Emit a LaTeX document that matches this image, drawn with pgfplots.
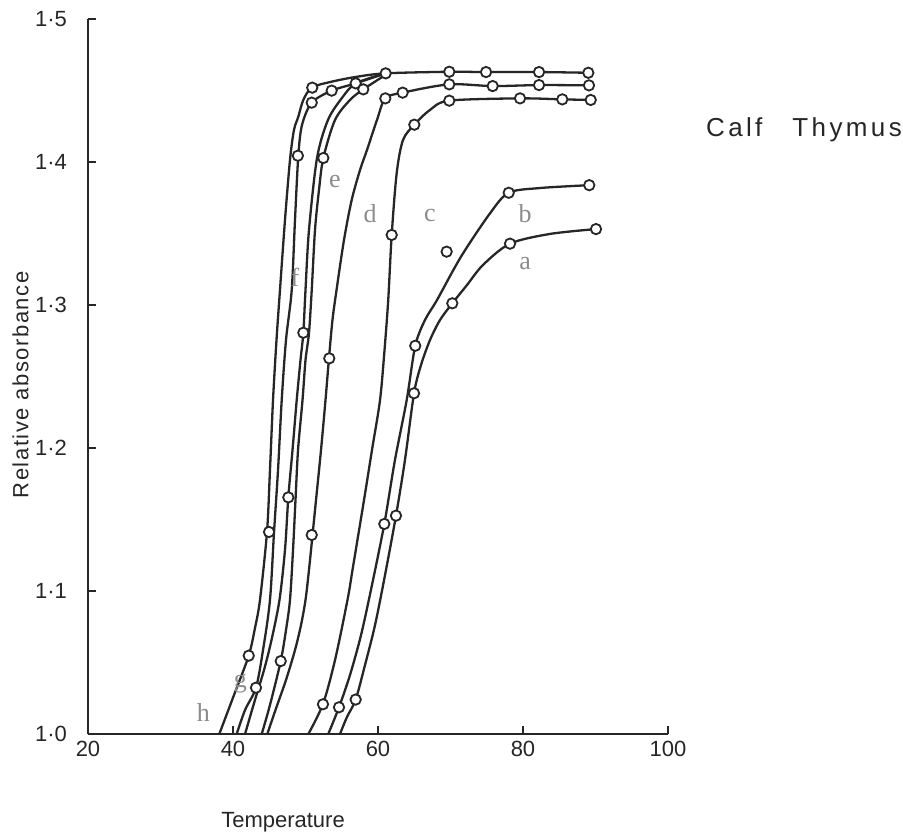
\documentclass[border=0pt]{standalone}
\usepackage{fontspec}
\setmainfont{Liberation Sans}
\newfontfamily\tagfont{Liberation Serif}
\usepackage{pgfplots}
\pgfplotsset{compat=1.18}

\definecolor{ink}{HTML}{262626}
\definecolor{tagc}{HTML}{8C8C8C}

\pgfplotsset{
  melt/.style={ink, line width=1.15pt, smooth, tension=0.5, no markers},
  pts/.style={only marks, mark=*, mark size=2.6pt,
    mark options={draw=ink, fill=white, line width=0.9pt}},
}

\begin{document}
\begin{tikzpicture}
\begin{axis}[
  scale only axis, width=290pt, height=357.5pt,
  xmin=20, xmax=100, ymin=1.0, ymax=1.5,
  axis lines=left,
  axis line style={ink, line width=1.1pt, -},
  xtick={20,40,60,80,100}, xticklabels={20,40,60,80,100},
  ytick={1.0,1.1,1.2,1.3,1.4,1.5},
  yticklabels={1·0,1·1,1·2,1·3,1·4,1·5},
  tick align=inside, major tick length=4pt,
  tick style={ink, line width=0.9pt},
  ticklabel style={font=\fontsize{11}{13}\selectfont, text=ink},
  yticklabel style={xshift=-7pt},
  clip=false,
]
% melting curves h ... a
% h
\addplot[melt] coordinates {(38.11,1.0000) (40.14,1.0273) (42.17,1.0548) (43.03,1.0741) (43.72,1.0937) (44.69,1.1413) (45.10,1.1846) (45.52,1.2336) (46.00,1.2755) (46.48,1.3105) (47.17,1.3594) (47.86,1.4014) (48.41,1.4224) (49.01,1.4317) (49.70,1.4434) (50.86,1.4520) (53.38,1.4559) (56.83,1.4594) (61.06,1.4620) (69.83,1.4631) (74.90,1.4629) (82.21,1.4629) (89.01,1.4624)};
% g
\addplot[melt] coordinates {(40.51,1.0000) (41.66,1.0168) (43.17,1.0324) (44.14,1.0587) (45.10,1.0937) (45.66,1.1413) (46.21,1.1846) (46.72,1.2336) (47.31,1.2755) (48.10,1.3105) (48.55,1.3594) (49.01,1.4044) (49.52,1.4259) (50.86,1.4415) (53.61,1.4499) (56.92,1.4550) (61.06,1.4620)};
% f
\addplot[melt] coordinates {(41.66,1.0000) (43.03,1.0238) (44.28,1.0448) (45.31,1.0657) (46.41,1.0937) (47.17,1.1287) (47.63,1.1655) (48.21,1.1986) (48.79,1.2336) (49.31,1.2615) (49.70,1.2806) (50.00,1.3105) (50.48,1.3524) (51.59,1.4028) (53.10,1.4294) (55.03,1.4448) (56.92,1.4550) (61.06,1.4620)};
% e
\addplot[melt] coordinates {(43.96,1.0000) (45.10,1.0203) (46.58,1.0510) (47.31,1.0727) (47.86,1.0937) (48.28,1.1287) (48.62,1.1636) (48.97,1.1986) (49.59,1.2336) (50.00,1.2615) (50.48,1.2804) (50.86,1.3105) (51.31,1.3524) (51.86,1.3804) (52.46,1.4028) (54.07,1.4294) (56.14,1.4434) (57.97,1.4508) (61.06,1.4610)};
% d
\addplot[melt] coordinates {(44.73,1.0000) (45.86,1.0168) (47.31,1.0378) (48.55,1.0587) (49.38,1.0762) (50.00,1.0937) (50.48,1.1147) (50.97,1.1392) (51.45,1.1636) (52.14,1.1986) (52.76,1.2336) (53.24,1.2629) (53.72,1.2895) (54.28,1.3105) (55.31,1.3455) (56.37,1.3734) (57.52,1.3944) (58.48,1.4084) (59.86,1.4294) (61.01,1.4445) (63.40,1.4485) (69.83,1.4543) (75.82,1.4531) (82.21,1.4538) (89.10,1.4536)};
% c
\addplot[melt] coordinates {(50.39,1.0000) (52.41,1.0210) (54.07,1.0517) (55.79,1.0937) (56.55,1.1168) (58.07,1.1636) (59.17,1.1986) (60.28,1.2336) (60.90,1.2685) (61.41,1.3035) (61.89,1.3490) (62.58,1.3923) (63.45,1.4154) (65.01,1.4261) (67.17,1.4364) (69.83,1.4429) (79.59,1.4445) (85.42,1.4438) (89.34,1.4434)};
% b
\addplot[melt] coordinates {(53.14,1.0000) (54.62,1.0187) (56.14,1.0413) (57.66,1.0692) (59.17,1.1042) (60.87,1.1469) (62.34,1.1916) (63.96,1.2336) (65.14,1.2715) (66.48,1.2895) (68.14,1.3035) (71.45,1.3338) (75.45,1.3641) (78.03,1.3785) (82.34,1.3818) (89.14,1.3838)};
% a
\addplot[melt] coordinates {(54.76,1.0000) (55.72,1.0119) (56.92,1.0241) (58.21,1.0483) (59.59,1.0762) (60.97,1.1112) (62.48,1.1527) (63.72,1.1916) (64.97,1.2383) (65.93,1.2580) (67.17,1.2755) (68.55,1.2895) (70.25,1.3012) (72.28,1.3140) (74.48,1.3280) (78.21,1.3429) (83.72,1.3497) (90.07,1.3531)};
% measured points
\addplot[pts] coordinates {(42.17,1.0548) (44.97,1.1413) (50.93,1.4520) (61.06,1.4620) (69.83,1.4631) (74.90,1.4629) (82.21,1.4629) (89.01,1.4624)};
\addplot[pts] coordinates {(43.17,1.0324) (48.95,1.4044) (50.86,1.4415) (53.61,1.4499) (56.92,1.4550)};
\addplot[pts] coordinates {(47.63,1.1655) (49.70,1.2806)};
\addplot[pts] coordinates {(46.58,1.0510) (52.46,1.4028) (57.97,1.4508)};
\addplot[pts] coordinates {(50.86,1.1392) (53.28,1.2627) (61.01,1.4445) (63.40,1.4485) (69.83,1.4543) (75.82,1.4531) (82.21,1.4538) (89.10,1.4536)};
\addplot[pts] coordinates {(52.41,1.0208) (61.89,1.3490) (65.01,1.4261) (69.83,1.4429) (79.59,1.4445) (85.42,1.4438) (89.34,1.4434)};
\addplot[pts] coordinates {(54.62,1.0187) (60.87,1.1469) (65.14,1.2715) (69.47,1.3373) (78.03,1.3785) (89.14,1.3838)};
\addplot[pts] coordinates {(56.92,1.0241) (62.48,1.1527) (64.97,1.2383) (70.25,1.3012) (78.21,1.3429) (90.07,1.3531)};
% curve letters
\begin{scope}[every node/.style={font=\tagfont\fontsize{13}{15}\selectfont, text=tagc}]
\node at (axis cs:35.90,1.0150) {h};
\node at (axis cs:41.03,1.0350) {g};
\node at (axis cs:48.55,1.3196) {f};
\node at (axis cs:54.07,1.3862) {e};
\node at (axis cs:58.90,1.3636) {d};
\node at (axis cs:67.17,1.3629) {c};
\node at (axis cs:80.28,1.3641) {b};
\node at (axis cs:80.28,1.3292) {a};
\end{scope}
% axis titles and sample name
\node[font=\fontsize{11}{13}\selectfont, text=ink] at (axis cs:46.90,0.9385) {Temperature};
\node[font=\fontsize{11}{13}\selectfont\addfontfeatures{LetterSpace=7}, text=ink, rotate=90] at (axis cs:10.70,1.2441) {Relative absorbance};
\node[font=\fontsize{13}{15}\selectfont\addfontfeatures{LetterSpace=13}, text=ink, anchor=west, inner sep=0pt] at (axis cs:105.2,1.4224) {Calf\hspace{15pt}Thymus};
\coordinate (bbl) at (axis cs:7.862,0.92727);
\coordinate (btr) at (axis cs:132.414,1.51329);
\end{axis}
\pgfresetboundingbox
\path[use as bounding box] (bbl) rectangle (btr);
\end{tikzpicture}
\end{document}
